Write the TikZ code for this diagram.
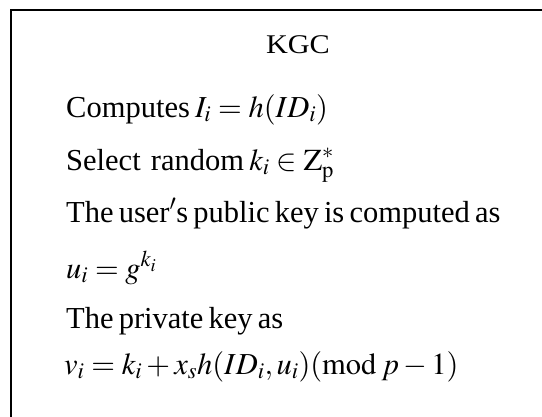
\documentclass[tikz,border=0pt]{standalone}
\usepackage{mathptmx}
\usepackage{fontspec}
\setmainfont{Liberation Serif}
\newcommand\mytightspace{\spaceskip=0.17em plus 0.05em\relax}
\begin{document}
\begin{tikzpicture}[x=1pt,y=-1pt,
  txt/.style={anchor=base west,inner sep=0pt,font=\fontsize{30.5}{34}\selectfont\mytightspace},
  frame/.style={line width=2pt,draw=black}]
\useasboundingbox (0,0) rectangle (542,416);
\coordinate (bl) at (11,430);
\coordinate (tl) at (11,10);
\coordinate (tr) at (560,10);
\draw[frame] (bl) -- (tl) -- (tr);
\node[anchor=base,inner sep=0pt,font=\fontsize{27}{30}\selectfont] (kgc) at (298,53) {\scalebox{1.12}[1]{KGC}};
\node[txt] (l1) at (66,117) {Computes $I_i = h(ID_i)$};
\node[txt] (l2) at (66,170) {Select\, random $k_i \in \mathrm{Z}_{\mathrm{p}}^{*}$};
\node[txt] (l3) at (66,222) {The user$'$s public key is computed as};
\node[txt] (l4) at (66,278) {$u_i = g^{k_i}$};
\node[txt] (l5) at (66,328) {The private key as};
\node[txt] (l6) at (64,374) {$v_i = k_i + x_s h(ID_i, u_i) (\mathrm{mod}\ p-1)$};
\end{tikzpicture}
\end{document}
